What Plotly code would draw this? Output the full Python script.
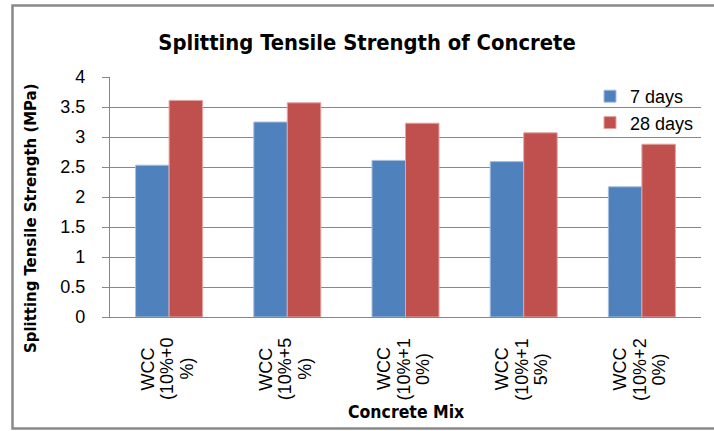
import plotly.graph_objects as go

# Concrete mixes (category labels, wrapped the way they appear under the axis)
mix_lines = [
    ["WCC", "(10%+0", "%)"],
    ["WCC", "(10%+5", "%)"],
    ["WCC", "(10%+1", "0%)"],
    ["WCC", "(10%+1", "5%)"],
    ["WCC", "(10%+2", "0%)"],
]
mixes = ["WCC (10%+0%)", "WCC (10%+5%)", "WCC (10%+10%)", "WCC (10%+15%)", "WCC (10%+20%)"]

# Splitting tensile strength (MPa)
strength_7d = [2.53, 3.25, 2.61, 2.59, 2.17]
strength_28d = [3.61, 3.57, 3.23, 3.07, 2.88]

y_ticks = [0, 0.5, 1, 1.5, 2, 2.5, 3, 3.5, 4]

W, H = 714, 431
L, R, T, B = 110, 13, 77, 114
pw, ph = W - L - R, H - T - B

def px_x(p):
    return (p - L) / pw

def px_y(p):
    return (H - B - p) / ph

GRID = "#878787"
FONT = "Liberation Sans"
NARROW = "DejaVu Sans Condensed"

fig = go.Figure()
fig.add_trace(go.Bar(
    x=mixes, y=strength_7d, name="7 days",
    marker=dict(color="#4F81BD", line=dict(color="#A7BFDE", width=1)),
))
fig.add_trace(go.Bar(
    x=mixes, y=strength_28d, name="28 days",
    marker=dict(color="#C0504D", line=dict(color="#E3A4A2", width=1)),
))

annotations = []
# rotated, centred multi-line category labels
for cat, lines in zip(mixes, mix_lines):
    for j, line in enumerate(lines):
        annotations.append(dict(
            x=cat, xref="x", y=px_y(369), yref="paper",
            text=line, showarrow=False, textangle=-90,
            xanchor="center", yanchor="middle", xshift=-2 + (j - 1) * 19.5,
            font=dict(family=FONT, size=18, color="#000000"),
        ))
annotations.append(dict(
    x=0.5, xref="paper", y=px_y(412), yref="paper",
    text="<b>Concrete Mix</b>", showarrow=False,
    xanchor="center", yanchor="middle",
    font=dict(family=NARROW, size=17.5, color="#000000"),
))
annotations.append(dict(
    x=px_x(30), xref="paper", y=px_y(219), yref="paper",
    text="<b>Splitting Tensile Strength (MPa)</b>", showarrow=False,
    textangle=-90, xanchor="center", yanchor="middle",
    font=dict(family=NARROW, size=16.6, color="#000000"),
))

fig.update_layout(
    width=W, height=H,
    margin=dict(l=L, r=R, t=T, b=B),
    paper_bgcolor="white", plot_bgcolor="white",
    title=dict(
        text="<b>Splitting Tensile Strength of Concrete</b>",
        x=367 / W, xanchor="center", xref="container",
        y=1 - 42 / H, yanchor="middle", yref="container",
        font=dict(family=NARROW, size=21.8, color="#000000"),
    ),
    barmode="group", bargap=0.433, bargroupgap=0,
    showlegend=True,
    legend=dict(
        x=px_x(590), xanchor="left", y=px_y(78), yanchor="top",
        bgcolor="rgba(0,0,0,0)", borderwidth=0,
        font=dict(family=FONT, size=18, color="#000000"),
        traceorder="normal",
    ),
    xaxis=dict(
        showticklabels=False, showgrid=False,
        showline=True, linecolor=GRID, linewidth=1.3,
        ticks="", zeroline=False,
    ),
    yaxis=dict(
        range=[0, 4], tickvals=y_ticks, ticktext=[f"{v:g}" for v in y_ticks],
        showgrid=True, gridcolor=GRID, gridwidth=1.3,
        showline=True, linecolor=GRID, linewidth=1.3,
        ticks="outside", ticklen=7, tickcolor=GRID, tickwidth=1.3,
        ticklabelstandoff=13, zeroline=False,
        tickfont=dict(family=FONT, size=18, color="#000000"),
    ),
    annotations=annotations,
    shapes=[dict(
        type="rect", xref="paper", yref="paper",
        x0=px_x(12.5), x1=px_x(W + 4), y0=px_y(428.5), y1=px_y(5.5),
        line=dict(color="#898989", width=2.5), fillcolor="rgba(0,0,0,0)",
        layer="below",
    )],
)

fig.write_html("out.html")
